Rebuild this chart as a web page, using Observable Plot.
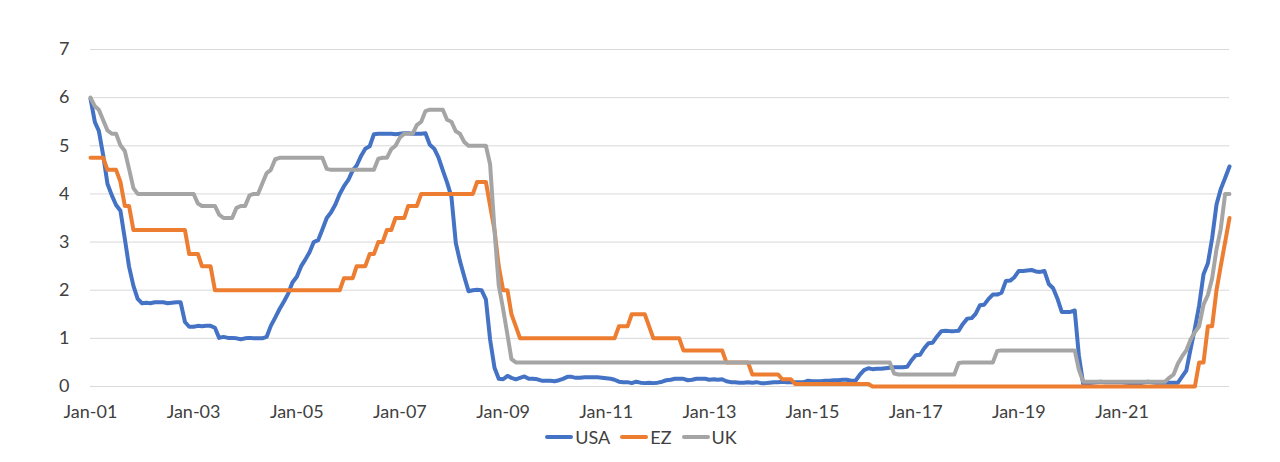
<!DOCTYPE html>
<html><head><meta charset="utf-8">
<script src="https://cdn.jsdelivr.net/npm/d3@7"></script>
<script src="https://cdn.jsdelivr.net/npm/@observablehq/plot@0.6"></script>
<style>
body{margin:0;background:#fff;font-family:Lato,"Open Sans",sans-serif;}
#legend{display:flex;justify-content:center;align-items:center;height:26px;font-size:18px;color:#404040;padding-left:2px;}
.item{display:flex;align-items:center;margin:0 5px;}
.sw{width:28px;height:4px;border-radius:2px;margin-right:2px;}
</style></head><body>
<div id="chart"></div><div id="legend"></div>
<script>
// Monthly values, Jan 2001 .. Feb 2023
const usa = [
 5.98,5.49,5.31,4.80,4.21,3.97,3.77,3.65,3.07,2.49,2.09,1.82,
 1.73,1.74,1.73,1.75,1.75,1.75,1.73,1.74,1.75,1.75,1.34,1.24,
 1.24,1.26,1.25,1.26,1.26,1.22,1.01,1.03,1.01,1.01,1.00,0.98,
 1.00,1.01,1.00,1.00,1.00,1.03,1.26,1.43,1.61,1.76,1.93,2.16,
 2.28,2.50,2.63,2.79,3.00,3.04,3.26,3.50,3.62,3.78,4.00,4.16,
 4.29,4.49,4.59,4.79,4.94,4.99,5.24,5.25,5.25,5.25,5.25,5.24,
 5.25,5.26,5.26,5.25,5.25,5.25,5.26,5.02,4.94,4.76,4.49,4.24,
 3.94,2.98,2.61,2.28,1.98,2.00,2.01,2.00,1.81,0.97,0.39,0.16,
 0.15,0.22,0.18,0.15,0.18,0.21,0.16,0.16,0.15,0.12,0.12,0.12,
 0.11,0.13,0.16,0.20,0.20,0.18,0.18,0.19,0.19,0.19,0.19,0.18,
 0.17,0.16,0.14,0.10,0.09,0.09,0.07,0.10,0.08,0.07,0.08,0.07,
 0.08,0.10,0.13,0.14,0.16,0.16,0.16,0.13,0.14,0.16,0.16,0.16,
 0.14,0.15,0.14,0.15,0.11,0.09,0.09,0.08,0.08,0.09,0.08,0.09,
 0.07,0.07,0.08,0.09,0.09,0.10,0.09,0.09,0.09,0.09,0.09,0.12,
 0.11,0.11,0.11,0.12,0.12,0.13,0.13,0.14,0.14,0.12,0.12,0.24,
 0.34,0.38,0.36,0.37,0.37,0.38,0.39,0.40,0.40,0.40,0.41,0.54,
 0.65,0.66,0.79,0.90,0.91,1.04,1.15,1.16,1.15,1.15,1.16,1.30,
 1.41,1.42,1.51,1.69,1.70,1.82,1.91,1.91,1.95,2.19,2.20,2.27,
 2.40,2.40,2.41,2.42,2.39,2.38,2.40,2.13,2.04,1.83,1.55,1.55,
 1.55,1.58,0.65,0.05,0.05,0.08,0.09,0.10,0.09,0.09,0.09,0.09,
 0.09,0.08,0.07,0.07,0.06,0.08,0.10,0.09,0.08,0.08,0.08,0.08,
 0.08,0.08,0.20,0.33,0.77,1.21,1.68,2.33,2.56,3.08,3.78,4.10,
 4.33,4.57
];
const ez = [
 4.75,4.75,4.75,4.75,4.50,4.50,4.50,4.25,3.75,3.75,3.25,3.25,
 3.25,3.25,3.25,3.25,3.25,3.25,3.25,3.25,3.25,3.25,3.25,2.75,
 2.75,2.75,2.50,2.50,2.50,2.00,2.00,2.00,2.00,2.00,2.00,2.00,
 2.00,2.00,2.00,2.00,2.00,2.00,2.00,2.00,2.00,2.00,2.00,2.00,
 2.00,2.00,2.00,2.00,2.00,2.00,2.00,2.00,2.00,2.00,2.00,2.25,
 2.25,2.25,2.50,2.50,2.50,2.75,2.75,3.00,3.00,3.25,3.25,3.50,
 3.50,3.50,3.75,3.75,3.75,4.00,4.00,4.00,4.00,4.00,4.00,4.00,
 4.00,4.00,4.00,4.00,4.00,4.00,4.25,4.25,4.25,3.75,3.25,2.50,
 2.00,2.00,1.50,1.25,1.00,1.00,1.00,1.00,1.00,1.00,1.00,1.00,
 1.00,1.00,1.00,1.00,1.00,1.00,1.00,1.00,1.00,1.00,1.00,1.00,
 1.00,1.00,1.00,1.25,1.25,1.25,1.50,1.50,1.50,1.50,1.25,1.00,
 1.00,1.00,1.00,1.00,1.00,1.00,0.75,0.75,0.75,0.75,0.75,0.75,
 0.75,0.75,0.75,0.75,0.50,0.50,0.50,0.50,0.50,0.50,0.25,0.25,
 0.25,0.25,0.25,0.25,0.25,0.15,0.15,0.15,0.05,0.05,0.05,0.05,
 0.05,0.05,0.05,0.05,0.05,0.05,0.05,0.05,0.05,0.05,0.05,0.05,
 0.05,0.05,0,0,0,0,0,0,0,0,0,0,
 0,0,0,0,0,0,0,0,0,0,0,0,
 0,0,0,0,0,0,0,0,0,0,0,0,
 0,0,0,0,0,0,0,0,0,0,0,0,
 0,0,0,0,0,0,0,0,0,0,0,0,
 0,0,0,0,0,0,0,0,0,0,0,0,
 0,0,0,0,0,0,0.50,0.50,1.25,1.25,2.00,2.50,
 3.00,3.50
];
const uk = [
 6.00,5.82,5.75,5.53,5.32,5.25,5.25,5.01,4.89,4.52,4.12,4.00,
 4.00,4.00,4.00,4.00,4.00,4.00,4.00,4.00,4.00,4.00,4.00,4.00,
 4.00,3.80,3.75,3.75,3.75,3.75,3.57,3.50,3.50,3.50,3.71,3.75,
 3.75,3.97,4.00,4.00,4.21,4.43,4.50,4.72,4.75,4.75,4.75,4.75,
 4.75,4.75,4.75,4.75,4.75,4.75,4.75,4.52,4.50,4.50,4.50,4.50,
 4.50,4.50,4.50,4.50,4.50,4.50,4.50,4.73,4.75,4.75,4.93,5.00,
 5.17,5.25,5.25,5.25,5.43,5.50,5.72,5.75,5.75,5.75,5.75,5.54,
 5.50,5.30,5.25,5.08,5.00,5.00,5.00,5.00,5.00,4.61,3.25,2.10,
 1.61,1.07,0.57,0.50,0.50,0.50,0.50,0.50,0.50,0.50,0.50,0.50,
 0.50,0.50,0.50,0.50,0.50,0.50,0.50,0.50,0.50,0.50,0.50,0.50,
 0.50,0.50,0.50,0.50,0.50,0.50,0.50,0.50,0.50,0.50,0.50,0.50,
 0.50,0.50,0.50,0.50,0.50,0.50,0.50,0.50,0.50,0.50,0.50,0.50,
 0.50,0.50,0.50,0.50,0.50,0.50,0.50,0.50,0.50,0.50,0.50,0.50,
 0.50,0.50,0.50,0.50,0.50,0.50,0.50,0.50,0.50,0.50,0.50,0.50,
 0.50,0.50,0.50,0.50,0.50,0.50,0.50,0.50,0.50,0.50,0.50,0.50,
 0.50,0.50,0.50,0.50,0.50,0.50,0.50,0.27,0.25,0.25,0.25,0.25,
 0.25,0.25,0.25,0.25,0.25,0.25,0.25,0.25,0.25,0.25,0.49,0.50,
 0.50,0.50,0.50,0.50,0.50,0.50,0.50,0.74,0.75,0.75,0.75,0.75,
 0.75,0.75,0.75,0.75,0.75,0.75,0.75,0.75,0.75,0.75,0.75,0.75,
 0.75,0.75,0.35,0.10,0.10,0.10,0.10,0.10,0.10,0.10,0.10,0.10,
 0.10,0.10,0.10,0.10,0.10,0.10,0.10,0.10,0.10,0.10,0.10,0.18,
 0.25,0.48,0.62,0.75,0.97,1.13,1.25,1.70,1.90,2.25,2.85,3.27,
 4.00,4.00
];
const seriesNames = ["USA", "EZ", "UK"];
const seriesColors = ["#4472C4", "#ED7D31", "#A5A5A5"];
const yTicks = [0, 1, 2, 3, 4, 5, 6, 7];
const xTickYears = [2001, 2003, 2005, 2007, 2009, 2011, 2013, 2015, 2017, 2019, 2021];

const start = new Date(Date.UTC(2001, 0, 1));
const months = d3.utcMonth.range(start, new Date(Date.UTC(2023, 2, 1)));
const values = [usa, ez, uk];
const rows = [];
seriesNames.forEach((name, s) => {
  values[s].forEach((v, i) => rows.push({series: name, date: months[i], value: v}));
});
const tickDates = xTickYears.map(y => new Date(Date.UTC(y, 0, 1)));

const chart = Plot.plot({
  width: 1280, height: 424,
  marginLeft: 90, marginRight: 51, marginTop: 49, marginBottom: 38,
  style: {fontFamily: "Lato, sans-serif", fontSize: "18px", color: "#404040", background: "#fff"},
  x: {type: "utc", domain: [start, months[months.length - 1]], ticks: tickDates,
      tickFormat: d => "Jan-" + String(d.getUTCFullYear()).slice(2), tickSize: 0, tickPadding: 19, label: null},
  y: {domain: [0, 7], ticks: yTicks, tickFormat: d => String(d), tickSize: 0, tickPadding: 21, label: null},
  color: {domain: seriesNames, range: seriesColors},
  marks: [
    Plot.ruleY(yTicks, {stroke: "#d9d9d9", strokeWidth: 1}),
    Plot.line(rows, {x: "date", y: "value", z: "series", stroke: "series",
      strokeWidth: 4, strokeLinejoin: "round", strokeLinecap: "round"})
  ]
});
document.getElementById("chart").appendChild(chart);

const legend = document.getElementById("legend");
seriesNames.forEach((n, i) => {
  const it = document.createElement("div"); it.className = "item";
  const sw = document.createElement("div"); sw.className = "sw"; sw.style.background = seriesColors[i];
  const tx = document.createElement("span"); tx.textContent = n;
  it.appendChild(sw); it.appendChild(tx); legend.appendChild(it);
});
</script></body></html>
